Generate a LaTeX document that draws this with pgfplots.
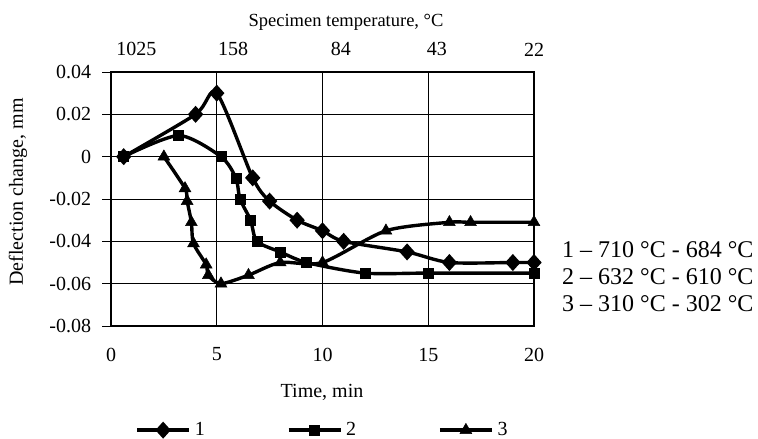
\documentclass[border=0pt]{standalone}
\usepackage{fontspec}
\setmainfont{Liberation Serif}
\usepackage{pgfplots}
\pgfplotsset{compat=1.18}
\pgfplotstableread{
x y
0.6 0
4.0 0.02
5.0 0.03
6.7 -0.01
7.5 -0.021
8.8 -0.03
10 -0.035
11 -0.04
14 -0.045
16 -0.05
19 -0.05
20 -0.05
}\seriesA
\pgfplotstableread{
x y
0.6 0
3.2 0.01
5.2 0
5.9 -0.01
6.1 -0.02
6.6 -0.03
6.9 -0.04
8 -0.045
9.25 -0.05
12 -0.055
15 -0.055
20 -0.055
}\seriesB
\pgfplotstableread{
x y
2.5 0
3.5 -0.015
3.6 -0.021
3.8 -0.031
3.9 -0.041
4.5 -0.051
4.6 -0.056
5.2 -0.06
6.5 -0.056
8 -0.05
10 -0.05
13 -0.035
16 -0.031
17 -0.031
20 -0.031
}\seriesC
\tikzset{rtext/.style={anchor=base west, inner sep=0pt, font=\fontsize{24bp}{24bp}\selectfont}}
\begin{document}
\fontsize{20bp}{24bp}\selectfont
\begin{tikzpicture}[x=1bp,y=1bp]
\useasboundingbox (0,0) rectangle (758,-439);
\begin{axis}[
  at={(111bp,-326bp)}, anchor=south west,
  width=423bp, height=254bp, scale only axis,
  xmin=0, xmax=20, ymin=-0.08, ymax=0.04,
  scaled y ticks=false, scaled x ticks=false,
  xtick={0,5,10,15,20},
  ytick={-0.08,-0.06,-0.04,-0.02,0,0.02,0.04},
  yticklabels={-0.08,-0.06,-0.04,-0.02,0,0.02,0.04},
  xticklabels={0,5,10,15,20},
  ytick pos=left, xtick pos=bottom,
  tick align=outside, major tick length=9bp,
  xtick style={draw=none},
  ytick style={black, line width=0.8bp},
  grid=major,
  major grid style={black, line width=0.7bp},
  axis line style={black, line width=1.2bp},
  ticklabel style={font=\fontsize{20bp}{24bp}\selectfont},
  xticklabel style={yshift=-6bp},
  yticklabel style={xshift=-4bp},
  legend columns=3,
  legend style={draw=none, fill=none, at={(0.5,-0.41)}, anchor=center,
    font=\fontsize{20bp}{24bp}\selectfont,
    /tikz/every odd column/.append style={column sep=2bp},
    /tikz/every even column/.append style={column sep=80bp}},
  legend image code/.code={\draw[mark repeat=2,mark phase=2,#1] plot coordinates {(0bp,0bp)(26bp,0bp)(52bp,0bp)};},
  every axis plot/.append style={black, line width=3.4bp, smooth, tension=0.45, mark options={solid, fill=black, draw=black, line width=0.5bp}},
]
\addplot[black, mark=diamond*, mark size=6bp, mark options={xscale=1.2}] table[x=x,y=y] {\seriesA};
\addlegendentry{1}
\addplot[black, mark=square*, mark size=5bp] table[x=x,y=y] {\seriesB};
\addlegendentry{2}
\addplot[black, mark=triangle*, mark size=6.8bp] table[x=x,y=y] {\seriesC};
\addlegendentry{3}
\end{axis}
\begin{axis}[
  at={(111bp,-326bp)}, anchor=south west,
  width=423bp, height=254bp, scale only axis,
  xmin=0, xmax=20, ymin=0, ymax=1,
  scaled x ticks=false,
  axis x line*=top, hide y axis,
  axis line style={draw=none},
  xtick={1.2,5.77,10.87,15.41,20},
  xticklabels={1025,158,84,43,22},
  xtick style={draw=none},
  ticklabel style={font=\fontsize{20bp}{24bp}\selectfont},
  xticklabel style={yshift=9bp},
]
\end{axis}
\node at (322,-392) {Time, min};
\node[font=\fontsize{18.5bp}{22bp}\selectfont] at (346,-22) {Specimen temperature, °C};
\node[rotate=90] at (18,-192) {Deflection change, mm};
\node[rtext] at (562,-258) {1 – 710 °C - 684 °C};
\node[rtext] at (562,-285) {2 – 632 °C - 610 °C};
\node[rtext] at (562,-312) {3 – 310 °C - 302 °C};
\end{tikzpicture}
\end{document}
